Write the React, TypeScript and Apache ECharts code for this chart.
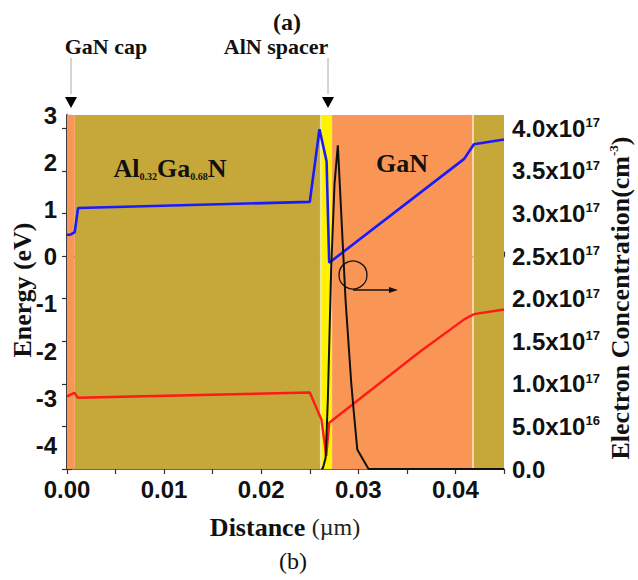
import React, { useEffect, useRef } from 'react';
import * as echarts from 'echarts';

// Distance (µm) vs conduction band energy (eV)
const conductionBand: [number, number][] = [
  [0, 0.46], [0.0004, 0.47], [0.0008, 0.52], [0.00114, 1.03], [0.025, 1.16],
  [0.026, 2.7], [0.02673, 2.02], [0.0270, -0.13], [0.0409, 2.07], [0.0419, 2.38], [0.045, 2.48],
];
// Distance (µm) vs valence band energy (eV)
const valenceBand: [number, number][] = [
  [0, -2.96], [0.0006, -2.9], [0.0008, -2.89], [0.0011, -2.99], [0.025, -2.88],
  [0.0262, -3.45], [0.0267, -4.22], [0.0270, -3.52], [0.0363, -2.02], [0.0409, -1.33],
  [0.0419, -1.22], [0.045, -1.12],
];
// Distance (µm) vs electron concentration (cm^-3)
const electronConc: [number, number][] = [
  [0.0262, 0], [0.02635, 0.01e17], [0.02663, 0.13e17], [0.02686, 0.81e17], [0.02721, 2.38e17],
  [0.02755, 3.35e17], [0.02789, 3.8e17], [0.02817, 3.16e17], [0.02868, 1.99e17],
  [0.02927, 1.01e17], [0.02954, 0.66e17], [0.02989, 0.23e17], [0.03105, 0], [0.045, 0],
];
// Layer boundaries (µm)
const layerNames = ['GaN cap', 'Al0.32Ga0.68N', 'interface', 'AlN spacer', 'GaN', 'interface2', 'substrate'];
const layerStart = [0, 0.0008, 0.02605, 0.02626, 0.0273, 0.04175, 0.0419];
const layerEnd = [0.0008, 0.02605, 0.02626, 0.0273, 0.04175, 0.0419, 0.045];

const layerColors = ['#FA9655', '#C6A83A', '#EDE6A6', '#FFF200', '#FA9655', '#F6D9A6', '#C6A83A'];

const SANS = 'Liberation Sans, Arial, sans-serif';
const SERIF = 'Liberation Serif, Times New Roman, serif';

export default function App() {
  const ref = useRef<HTMLDivElement>(null);
  useEffect(() => {
    if (!ref.current) return;
    const chart = echarts.init(ref.current, undefined, { renderer: 'svg' });
    const axisLine = { show: true, lineStyle: { color: '#333', width: 1.5 } };
    const tick = { show: true, inside: true, length: 5, lineStyle: { color: '#333', width: 1.2 } };
    const labelBase = { fontFamily: SANS, fontWeight: 'bold' as const, fontSize: 24, color: '#111' };
    const option: any = {
      animation: false,
      backgroundColor: '#fff',
      grid: { left: 67, top: 115, right: 134, bottom: 111, containLabel: false },
      xAxis: [
        {
          type: 'value', min: 0, max: 0.045, interval: 0.005, position: 'bottom',
          axisLine, axisTick: tick, splitLine: { show: false },
          axisLabel: {
            ...labelBase, margin: 8,
            formatter: (v: number) => (Math.round(v / 0.005) % 2 === 0 ? v.toFixed(2) : ''),
          },
        },
        {
          type: 'value', min: 0, max: 0.045, interval: 0.005, position: 'top',
          axisLine, axisTick: tick, splitLine: { show: false }, axisLabel: { show: false },
        },
      ],
      yAxis: [
        {
          type: 'value', min: -4.5, max: 3, interval: 0.5, position: 'left',
          axisLine, axisTick: tick, splitLine: { show: false },
          axisLabel: {
            ...labelBase, margin: 10,
            formatter: (v: number) => (v % 1 === 0 ? String(v) : ''),
          },
        },
        {
          type: 'value', min: 0, max: 4.156e17, interval: 0.5e17, position: 'right',
          axisLine, axisTick: tick, splitLine: { show: false },
          axisLabel: {
            margin: 8, showMaxLabel: false,
            formatter: (v: number) => {
              if (v === 0) return '{m|0.0}';
              const e = Math.floor(Math.log10(v) + 1e-9);
              const m = v / Math.pow(10, e);
              return `{m|${m.toFixed(1)}x10}{s|${e}}`;
            },
            rich: {
              m: { ...labelBase },
              s: { fontFamily: SANS, fontWeight: 'bold', fontSize: 13, color: '#111', verticalAlign: 'top' },
            },
          },
        },
      ],
      series: [
        {
          type: 'line', name: 'layers', data: [[0, -4.5]], showSymbol: false, silent: true,
          lineStyle: { opacity: 0 }, z: 0,
          markArea: {
            silent: true,
            data: layerNames.map((n, i) => [
              { name: '', xAxis: layerStart[i], itemStyle: { color: layerColors[i], opacity: 1 } },
              { xAxis: layerEnd[i] },
            ]),
          },
        },
        {
          type: 'line', name: 'Conduction band', data: conductionBand, showSymbol: false,
          lineStyle: { color: '#1A1AFF', width: 2.6 }, z: 3,
        },
        {
          type: 'line', name: 'Valence band', data: valenceBand, showSymbol: false,
          lineStyle: { color: '#FF1A1A', width: 2.4 }, z: 3,
        },
        {
          type: 'line', name: 'Electron concentration', data: electronConc, yAxisIndex: 1,
          showSymbol: false, lineStyle: { color: '#111', width: 2 }, z: 4,
        },
      ],
      graphic: [
        { type: 'text', x: 287, y: 22, style: { text: '(a)', font: `bold 24px ${SERIF}`, fill: '#111', align: 'center', verticalAlign: 'middle' } },
        { type: 'text', x: 106, y: 46, style: { text: 'GaN cap', font: `bold 22px ${SERIF}`, fill: '#111', align: 'center', verticalAlign: 'middle' } },
        { type: 'text', x: 276, y: 46, style: { text: 'AlN spacer', font: `bold 22px ${SERIF}`, fill: '#111', align: 'center', verticalAlign: 'middle' } },
        { type: 'line', shape: { x1: 71, y1: 58, x2: 71, y2: 94 }, style: { stroke: '#aaa', lineWidth: 1 } },
        { type: 'line', shape: { x1: 328, y1: 58, x2: 328, y2: 94 }, style: { stroke: '#aaa', lineWidth: 1 } },
        { type: 'polygon', shape: { points: [[65, 97], [77, 97], [71, 108]] }, style: { fill: '#000' } },
        { type: 'polygon', shape: { points: [[322, 97], [334, 97], [328, 108]] }, style: { fill: '#000' } },
        {
          type: 'text', x: 170, y: 168, z: 10,
          style: {
            text: '{m|Al}{s|0.32}{m|Ga}{s|0.68}{m|N}', align: 'center', verticalAlign: 'middle',
            rich: {
              m: { fontFamily: SERIF, fontWeight: 'bold', fontSize: 26, fill: '#111' },
              s: { fontFamily: SERIF, fontWeight: 'bold', fontSize: 10, fill: '#111', verticalAlign: 'bottom' },
            },
          },
        },
        { type: 'text', x: 402, y: 163, z: 10, style: { text: 'GaN', font: `bold 26px ${SERIF}`, fill: '#111', align: 'center', verticalAlign: 'middle' } },
        { type: 'circle', z: 10, shape: { cx: 353, cy: 275, r: 14 }, style: { fill: 'none', stroke: '#111', lineWidth: 1.3 } },
        { type: 'line', z: 10, shape: { x1: 353, y1: 290, x2: 392, y2: 290 }, style: { stroke: '#111', lineWidth: 1.3 } },
        { type: 'polygon', z: 10, shape: { points: [[389, 287], [398, 290], [389, 293]] }, style: { fill: '#111' } },
        {
          type: 'text', x: 22, y: 290, rotation: Math.PI / 2,
          style: { text: 'Energy (eV)', font: `bold 26px ${SERIF}`, fill: '#111', align: 'center', verticalAlign: 'middle' },
        },
        {
          type: 'text', x: 620, y: 298, rotation: Math.PI / 2,
          style: {
            text: '{n|Electron Concentration(cm}{s|-3}{n|)}', align: 'center', verticalAlign: 'middle',
            rich: {
              n: { fontFamily: SERIF, fontWeight: 'bold', fontSize: 26, fill: '#111' },
              s: { fontFamily: SERIF, fontWeight: 'bold', fontSize: 13, fill: '#111', verticalAlign: 'top' },
            },
          },
        },
        {
          type: 'text', x: 285, y: 527,
          style: {
            text: '{b|Distance }{r|(µm)}', align: 'center', verticalAlign: 'middle',
            rich: {
              b: { fontFamily: SERIF, fontWeight: 'bold', fontSize: 26, fill: '#111' },
              r: { fontFamily: SERIF, fontSize: 24, fill: '#222' },
            },
          },
        },
        { type: 'text', x: 293, y: 561, style: { text: '(b)', font: `24px ${SERIF}`, fill: '#111', align: 'center', verticalAlign: 'middle' } },
      ],
    };
    chart.setOption(option);
    return () => chart.dispose();
  }, []);
  return <div ref={ref} style={{ position: 'fixed', left: 0, top: 0, width: 638, height: 580, background: '#fff' }} />;
}
